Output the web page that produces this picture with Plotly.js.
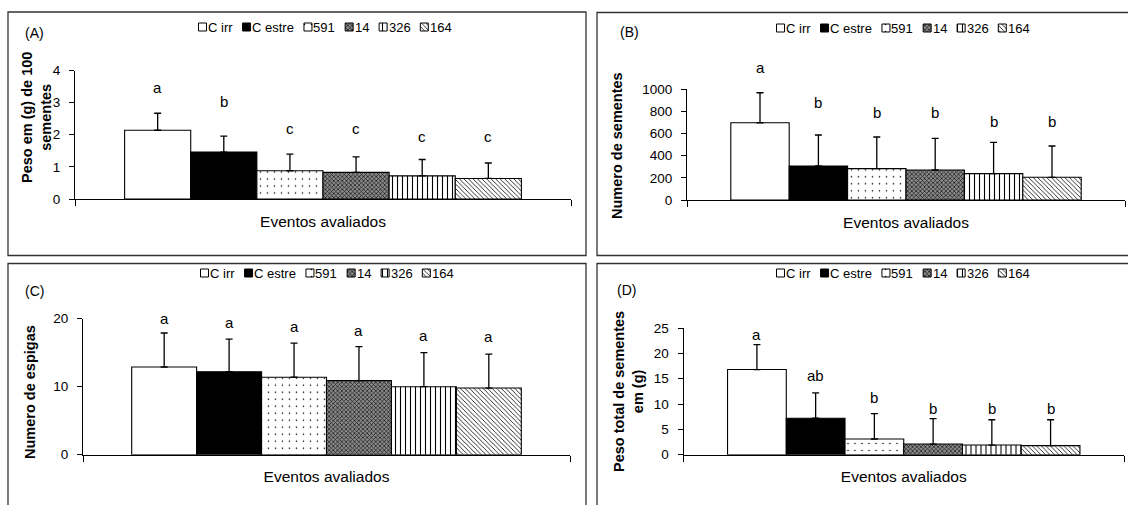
<!DOCTYPE html>
<html><head><meta charset="utf-8">
<script src="https://cdn.plot.ly/plotly-3.0.1.min.js"></script>
<style>html,body{margin:0;padding:0;background:#fff}#chart{width:1128px;height:505px}</style>
</head><body><div id="chart"></div>
<script>
// ---------------- DATA ----------------
const category = ['Eventos avaliados'];
const events = ['C irr', 'C estre', '591', '14', '326', '164'];

// (A) Peso em (g) de 100 sementes
const pesoCemMean = [2.14, 1.46, 0.88, 0.83, 0.72, 0.64];
const pesoCemSd = [0.53, 0.50, 0.52, 0.48, 0.51, 0.48];
const pesoCemLetters = ['a', 'b', 'c', 'c', 'c', 'c'];
const pesoCemLetterY = [3.48, 3.02, 2.18, 2.18, 1.95, 1.95];
const pesoCemTicks = [0, 1, 2, 3, 4];

// (B) Numero de sementes
const numSementesMean = [698, 307, 283, 271, 238, 205];
const numSementesSd = [271, 280, 286, 286, 283, 283];
const numSementesLetters = ['a', 'b', 'b', 'b', 'b', 'b'];
const numSementesLetterY = [1195, 883, 789, 789, 711, 711];
const numSementesTicks = [0, 200, 400, 600, 800, 1000];

// (C) Numero de espigas
const numEspigasMean = [12.9, 12.2, 11.4, 10.9, 10.0, 9.8];
const numEspigasSd = [5.0, 4.8, 5.0, 5.0, 5.0, 5.0];
const numEspigasLetters = ['a', 'a', 'a', 'a', 'a', 'a'];
const numEspigasLetterY = [20.0, 19.4, 18.8, 18.2, 17.5, 17.4];
const numEspigasTicks = [0, 10, 20];

// (D) Peso total de sementes em (g)
const pesoTotalMean = [16.8, 7.2, 3.1, 2.1, 1.9, 1.8];
const pesoTotalSd = [4.9, 5.0, 5.0, 5.0, 5.0, 5.1];
const pesoTotalLetters = ['a', 'ab', 'b', 'b', 'b', 'b'];
const pesoTotalLetterY = [23.7, 15.7, 11.3, 9.2, 9.2, 9.2];
const pesoTotalTicks = [0, 5, 10, 15, 20, 25];

// ---------------- LAYOUT / STYLE ----------------
const W = 1128, H = 505;
const FONT = 'Liberation Sans, Arial, sans-serif';
const BARGAP = 0.2;

const panels = [
  {tag: '(A)', mean: pesoCemMean, sd: pesoCemSd, letters: pesoCemLetters, letterY: pesoCemLetterY, ticks: pesoCemTicks,
   xpx: [75, 571], ypx: [70.5, 199], box: [8, 12, 586, 255.5], tagPos: [34, 33], legendC: [325, 27],
   ylabel: 'Peso em (g) de 100<br>sementes', ylabelPos: [37, 118]},
  {tag: '(B)', mean: numSementesMean, sd: numSementesSd, letters: numSementesLetters, letterY: numSementesLetterY, ticks: numSementesTicks,
   xpx: [687, 1125], ypx: [89.3, 200], box: [597, 12.5, 1140, 255.5], tagPos: [629, 32], legendC: [903, 28],
   ylabel: 'Numero de sementes', ylabelPos: [617, 146]},
  {tag: '(C)', mean: numEspigasMean, sd: numEspigasSd, letters: numEspigasLetters, letterY: numEspigasLetterY, ticks: numEspigasTicks,
   xpx: [83, 570], ypx: [318.7, 454.7], box: [8, 263.5, 586, 520], tagPos: [34, 291], legendC: [327, 273],
   ylabel: 'Numero de espigas', ylabelPos: [30, 392]},
  {tag: '(D)', mean: pesoTotalMean, sd: pesoTotalSd, letters: pesoTotalLetters, letterY: pesoTotalLetterY, ticks: pesoTotalTicks,
   xpx: [683.5, 1124], ypx: [328, 454.7], box: [597, 263.5, 1140, 520], tagPos: [626, 290], legendC: [903, 273],
   ylabel: 'Peso total de sementes<br>em (g)', ylabelPos: [628, 392]}
];

const seriesStyle = [
  {color: '#ffffff', pattern: {shape: ''}},
  {color: '#000000', pattern: {shape: ''}},
  {color: '#ffffff', pattern: {shape: '.', fgcolor: '#000', bgcolor: '#fff', size: 7, solidity: 0.04}},
  {color: '#707070', pattern: {shape: 'x', fgcolor: '#111', bgcolor: '#8a8a8a', size: 3, solidity: 0.4}},
  {color: '#ffffff', pattern: {shape: '|', fgcolor: '#000', bgcolor: '#fff', size: 5, solidity: 0.22}},
  {color: '#ffffff', pattern: {shape: '\\', fgcolor: '#000', bgcolor: '#fff', size: 3.2, solidity: 0.25}}
];

const traces = [];
const annotations = [];
const shapes = [];
const layout = {
  width: W, height: H, autosize: false,
  margin: {l: 0, r: 0, t: 0, b: 0, pad: 0},
  paper_bgcolor: '#ffffff', plot_bgcolor: 'rgba(0,0,0,0)',
  barmode: 'group', bargap: BARGAP, bargroupgap: 0,
  showlegend: false,
  font: {family: FONT, color: '#000'},
  annotations: annotations, shapes: shapes
};

const nS = events.length;
const slot = (1 - BARGAP) / nS;

panels.forEach((p, k) => {
  const n = k + 1;
  const xa = 'x' + (n === 1 ? '' : n), ya = 'y' + (n === 1 ? '' : n);
  const xKey = 'xaxis' + (n === 1 ? '' : n), yKey = 'yaxis' + (n === 1 ? '' : n);
  const ymax = p.ticks[p.ticks.length - 1];
  layout[xKey] = {
    domain: [p.xpx[0] / W, p.xpx[1] / W], anchor: ya, type: 'category', range: [-0.5, 0.5],
    showline: true, linecolor: '#000', linewidth: 1, ticks: 'outside', tickson: 'boundaries',
    ticklen: 6, tickcolor: '#000', tickwidth: 1, ticklabelstandoff: 8,
    tickfont: {family: FONT, size: 15.5, color: '#000'}, showgrid: false, zeroline: false, fixedrange: true
  };
  layout[yKey] = {
    domain: [1 - p.ypx[1] / H, 1 - p.ypx[0] / H], anchor: xa, range: [0, ymax],
    tickmode: 'array', tickvals: p.ticks, ticktext: p.ticks.map(String),
    showline: true, linecolor: '#000', linewidth: 1, ticks: 'outside', ticklen: 5, tickcolor: '#000', tickwidth: 1,
    ticklabelstandoff: 6, tickfont: {family: FONT, size: 13.5, color: '#000'},
    showgrid: false, zeroline: false, fixedrange: true
  };
  events.forEach((ev, i) => {
    traces.push({
      type: 'bar', name: ev, x: category, y: [p.mean[i]], xaxis: xa, yaxis: ya,
      marker: {color: seriesStyle[i].color, pattern: seriesStyle[i].pattern, line: {color: '#000', width: 1.1}},
      error_y: {type: 'data', symmetric: false, array: [p.sd[i]], arrayminus: [0], color: '#000', thickness: 1.3, width: 3.5},
      hoverinfo: 'skip', showlegend: false
    });
    annotations.push({
      xref: xa, yref: ya + ' domain', x: -0.5 + BARGAP / 2 + (i + 0.5) * slot, y: p.letterY[i] / ymax,
      text: p.letters[i], showarrow: false, xanchor: 'center', yanchor: 'middle',
      font: {family: FONT, size: 15, color: '#000'}, borderpad: 0
    });
  });
  shapes.push({type: 'rect', xref: 'paper', yref: 'paper', x0: p.box[0] / W, x1: p.box[2] / W,
    y0: 1 - p.box[3] / H, y1: 1 - p.box[1] / H, line: {color: '#333', width: 1.3}, fillcolor: 'rgba(0,0,0,0)'});
  annotations.push({xref: 'paper', yref: 'paper', x: p.tagPos[0] / W, y: 1 - p.tagPos[1] / H, text: p.tag,
    showarrow: false, xanchor: 'center', yanchor: 'middle', font: {family: FONT, size: 14, color: '#000'}, borderpad: 0});
  annotations.push({xref: 'paper', yref: 'paper', x: p.ylabelPos[0] / W, y: 1 - p.ylabelPos[1] / H, text: p.ylabel,
    textangle: -90, showarrow: false, xanchor: 'center', yanchor: 'middle',
    font: {family: FONT, size: 14.5, color: '#000', weight: 'bold'}, borderpad: 0});
});

// ---------------- custom legends ----------------
const ctx = document.createElement('canvas').getContext('2d');
const LEGFONT = 13;
ctx.font = LEGFONT + "px 'Liberation Sans'";
const tw = events.map(e => ctx.measureText(e).width);
const SW = 8, G1 = 1.5, G2 = 10;
const totalW = tw.reduce((a, b) => a + b, 0) + nS * (SW + G1) + (nS - 1) * G2;
const swX = events.map(() => []), swBase = events.map(() => []);
panels.forEach(p => {
  let x = p.legendC[0] - totalW / 2;
  events.forEach((ev, i) => {
    swX[i].push(x + SW / 2);
    swBase[i].push(p.legendC[1] - SW / 2);
    annotations.push({xref: 'paper', yref: 'paper', x: (x + SW + G1) / W, y: 1 - p.legendC[1] / H, text: ev,
      showarrow: false, xanchor: 'left', yanchor: 'middle', borderpad: 0, borderwidth: 0,
      font: {family: FONT, size: LEGFONT, color: '#000'}});
    x += SW + G1 + tw[i] + G2;
  });
});
layout.xaxis5 = {domain: [0, 1], range: [0, W], visible: false, anchor: 'y5', fixedrange: true};
layout.yaxis5 = {domain: [0, 1], range: [H, 0], visible: false, anchor: 'x5', fixedrange: true};
events.forEach((ev, i) => {
  traces.push({
    type: 'bar', name: ev + ' (legenda)', x: swX[i], y: swX[i].map(() => SW), base: swBase[i],
    width: SW, offset: -SW / 2, xaxis: 'x5', yaxis: 'y5',
    marker: {color: seriesStyle[i].color, pattern: seriesStyle[i].pattern, line: {color: '#000', width: 1}},
    hoverinfo: 'skip', showlegend: false
  });
});

Plotly.newPlot('chart', traces, layout, {staticPlot: true, displayModeBar: false});
</script>
</body></html>
